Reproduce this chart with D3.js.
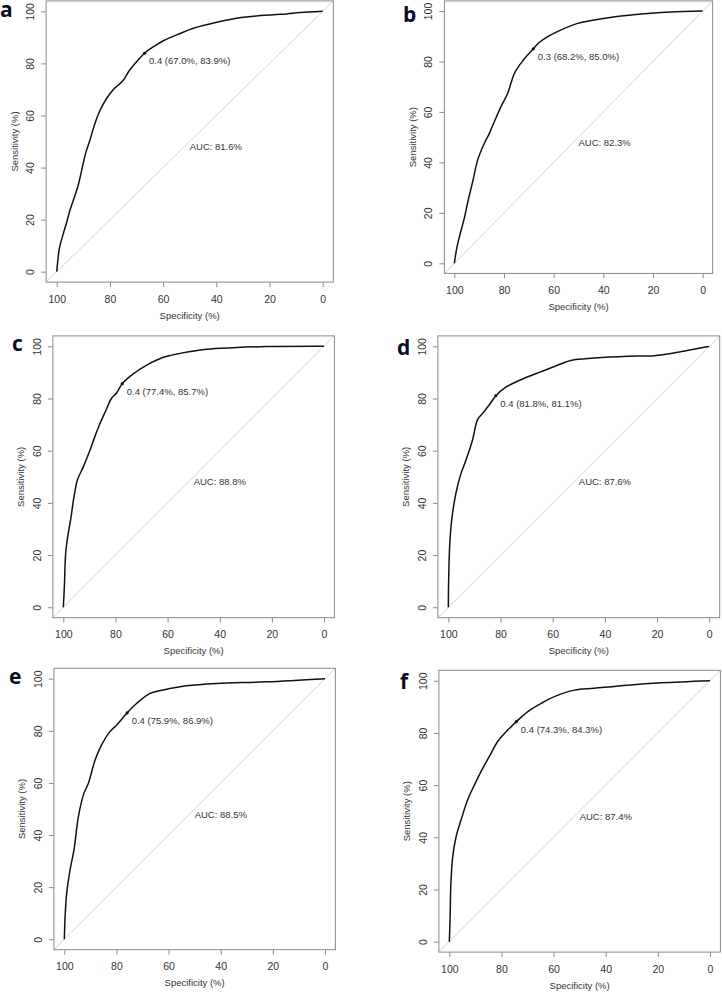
<!DOCTYPE html>
<html>
<head>
<meta charset="utf-8">
<script src="https://cdn.jsdelivr.net/npm/d3@7"></script>
<style>
  html, body { margin: 0; padding: 0; background: #fff; }
  svg { display: block; }
</style>
</head>
<body>
<svg id="chart" width="722" height="992"></svg>
<script>
// ---------- DATA ----------
const panelLabels = ["a", "b", "c", "d", "e", "f"];
const tickValues = [100, 80, 60, 40, 20, 0];
const thresholds = ["0.4", "0.3", "0.4", "0.4", "0.4", "0.4"];
const cutSpec = [67.0, 68.2, 77.4, 81.8, 75.9, 74.3];
const cutSens = [83.9, 85.0, 85.7, 81.1, 86.9, 84.3];
const aucValues = [81.6, 82.3, 88.8, 87.6, 88.5, 87.4];

const specA = [100, 99.7, 99, 97.5, 96.2, 95, 93.5, 91.9, 90.6, 89, 87.5, 85.6, 83.7, 81.2, 78.7, 76.8, 74.9, 73, 69.9, 67.0, 63.6, 59.9, 53.6, 48.6, 39.8, 29.8, 18.5, 13.5, 8.5, 0];
const sensA = [0, 3.2, 9, 14.7, 19.2, 23.7, 28.2, 33.3, 39, 46, 50.6, 57, 62, 66.6, 70, 71.7, 73.6, 76.8, 80.7, 83.9, 86.4, 88.7, 91.5, 93.5, 95.8, 97.7, 98.7, 99, 99.5, 100];

const specB = [100, 98.9, 97.6, 96, 94.4, 92.6, 90.6, 87.9, 85.9, 83.9, 81.2, 78.5, 75.8, 72.5, 68.2, 65.8, 62.4, 57, 50.3, 43.6, 32.9, 20.8, 12.8, 0];
const sensB = [0, 6.6, 11.9, 17.8, 25.1, 32.4, 41, 47.6, 51.5, 56.1, 62.1, 67.4, 75.3, 80.2, 85.0, 87.5, 89.8, 92.5, 95.1, 96.4, 98, 99.1, 99.6, 100];

const specC = [100, 99.6, 99.1, 98.1, 97.2, 95.9, 94.6, 92.3, 90, 87.9, 85.9, 83.6, 81.5, 79.5, 77.4, 73.8, 68, 61.6, 55.2, 45, 34.8, 22, 0];
const sensC = [0, 7.9, 20.7, 28.4, 33.5, 42.4, 48.8, 53.9, 59.6, 65.4, 70.5, 75.6, 80.1, 82.2, 85.7, 89, 92.8, 95.8, 97.3, 98.9, 99.5, 99.9, 100];

const specD = [100, 99.9, 99.5, 98.7, 97.1, 95.1, 93.2, 90.7, 88.8, 86.8, 84.3, 81.8, 78.5, 72.2, 65.8, 59.4, 53, 44.1, 31.3, 21.1, 12.1, 0];
const sensD = [0, 9.2, 23.3, 33.5, 43.7, 51.4, 56.5, 64.2, 71.9, 74.4, 77.6, 81.1, 84, 87.2, 89.8, 92.3, 94.6, 95.5, 96.2, 96.4, 97.7, 100];

const specE = [100, 99.7, 99.1, 97.8, 96.3, 94.6, 92.5, 90.8, 88.2, 85.7, 82.5, 79.9, 75.9, 72.3, 67.1, 62, 53.1, 41.6, 22.4, 0];
const sensE = [0, 8.7, 17.6, 26.6, 34.3, 47.1, 56, 59.8, 68.8, 74.6, 79.7, 82.2, 86.9, 90.5, 94.4, 95.7, 97.3, 98.2, 98.8, 100];

const specF = [100, 99.7, 99.4, 98.7, 97.4, 95.5, 93, 90.4, 87.9, 84.7, 81.5, 77.6, 74.3, 70, 64.8, 59.7, 52, 44.4, 31.6, 18.8, 0];
const sensF = [0, 9.6, 22.3, 32.6, 40.2, 46.6, 54.3, 60, 65.1, 70.9, 76.6, 81.1, 84.3, 88.1, 91.3, 93.9, 96.4, 97.1, 98.3, 99.2, 100];

const specSeries = [specA, specB, specC, specD, specE, specF];
const sensSeries = [sensA, sensB, sensC, sensD, sensE, sensF];

// ---------- LAYOUT (plot-box edges in px) ----------
const boxes = [
  { left: 46.1, top: 0.9, right: 333.3, bottom: 282.1, lx: 0, ly: 17 },
  { left: 444.4, top: 0.9, right: 712.6, bottom: 273.4, lx: 403, ly: 22 },
  { left: 52.9, top: 335.9, right: 334.4, bottom: 617.7, lx: 12, ly: 351 },
  { left: 437.9, top: 335.9, right: 719.7, bottom: 617.7, lx: 397, ly: 355 },
  { left: 53.9, top: 668.3, right: 335.4, bottom: 949.7, lx: 9, ly: 684 },
  { left: 438.9, top: 670.3, right: 720.4, bottom: 952.1, lx: 400, ly: 689 }
];

const svg = d3.select("#chart");
const FONT = "'Liberation Sans', Arial, Helvetica, sans-serif";

boxes.forEach((b, i) => {
  const x = d3.scaleLinear().domain([104, -4]).range([b.left, b.right]);
  const y = d3.scaleLinear().domain([-4, 104]).range([b.bottom, b.top]);
  const g = svg.append("g");

  const clipId = "clip" + i;
  g.append("clipPath").attr("id", clipId)
    .append("rect")
    .attr("x", b.left).attr("y", b.top)
    .attr("width", b.right - b.left).attr("height", b.bottom - b.top);

  // diagonal reference line (clipped to plot region)
  g.append("line")
    .attr("clip-path", `url(#${clipId})`)
    .attr("x1", x(104)).attr("y1", y(-4))
    .attr("x2", x(-4)).attr("y2", y(104))
    .attr("stroke", "#d2d2d2").attr("stroke-width", 1);

  // box
  g.append("rect")
    .attr("x", b.left).attr("y", b.top)
    .attr("width", b.right - b.left).attr("height", b.bottom - b.top)
    .attr("fill", "none").attr("stroke", "#8a8a8a").attr("stroke-width", 1);

  // x axis
  const xa = g.append("g")
    .attr("transform", `translate(0,${b.bottom})`)
    .call(d3.axisBottom(x).tickValues(tickValues).tickSize(5).tickFormat(d3.format("d")));
  xa.select(".domain").remove();
  xa.selectAll(".tick line").attr("stroke", "#8a8a8a");
  xa.selectAll(".tick text")
    .attr("y", 17).attr("dy", "0.35em")
    .attr("fill", "#333").style("font-family", FONT).style("font-size", "10.5px");

  // y axis
  const ya = g.append("g")
    .attr("transform", `translate(${b.left},0)`)
    .call(d3.axisLeft(y).tickValues(tickValues.slice().reverse()).tickSize(5).tickFormat(d3.format("d")));
  ya.select(".domain").remove();
  ya.selectAll(".tick line").attr("stroke", "#8a8a8a");
  ya.selectAll(".tick text")
    .attr("x", null).attr("dy", null)
    .attr("text-anchor", "middle")
    .attr("dominant-baseline", "central")
    .attr("transform", "translate(-16,0) rotate(-90)")
    .attr("fill", "#333").style("font-family", FONT).style("font-size", "10.5px");

  // axis titles
  g.append("text")
    .attr("x", (b.left + b.right) / 2).attr("y", b.bottom + 33)
    .attr("text-anchor", "middle").attr("dominant-baseline", "central")
    .attr("fill", "#333").style("font-family", FONT).style("font-size", "9.5px")
    .text("Specificity (%)");
  g.append("text")
    .attr("transform", `translate(${b.left - 32},${(b.top + b.bottom) / 2}) rotate(-90)`)
    .attr("text-anchor", "middle").attr("dominant-baseline", "central")
    .attr("fill", "#333").style("font-family", FONT).style("font-size", "9.5px")
    .text("Sensitivity (%)");

  // ROC curve
  const pts = specSeries[i].map((s, k) => [s, sensSeries[i][k]]);
  const line = d3.line().x(d => x(d[0])).y(d => y(d[1])).curve(d3.curveCatmullRom.alpha(0.5));
  g.append("path")
    .attr("d", line(pts))
    .attr("fill", "none").attr("stroke", "#111").attr("stroke-width", 1.5)
    .attr("stroke-linejoin", "round");

  // threshold point + label
  g.append("circle")
    .attr("cx", x(cutSpec[i])).attr("cy", y(cutSens[i])).attr("r", 1.6)
    .attr("fill", "#111");
  g.append("text")
    .attr("x", x(cutSpec[i]) + 4.5).attr("y", y(cutSens[i]) + 7.5)
    .attr("dominant-baseline", "central")
    .attr("fill", "#333").style("font-family", FONT).style("font-size", "9.5px")
    .text(`${thresholds[i]} (${cutSpec[i].toFixed(1)}%, ${cutSens[i].toFixed(1)}%)`);

  // AUC
  g.append("text")
    .attr("x", x(50)).attr("y", y(50) + 5)
    .attr("dominant-baseline", "central")
    .attr("fill", "#333").style("font-family", FONT).style("font-size", "9.5px")
    .text(`AUC: ${aucValues[i].toFixed(1)}%`);

  // panel letter
  svg.append("text")
    .attr("x", b.lx).attr("y", b.ly)
    .attr("fill", "#0b0b1e")
    .style("font-family", "'Open Sans', 'DejaVu Sans', sans-serif")
    .style("font-weight", "bold").style("font-size", "21px")
    .text(panelLabels[i]);
});
</script>
</body>
</html>
